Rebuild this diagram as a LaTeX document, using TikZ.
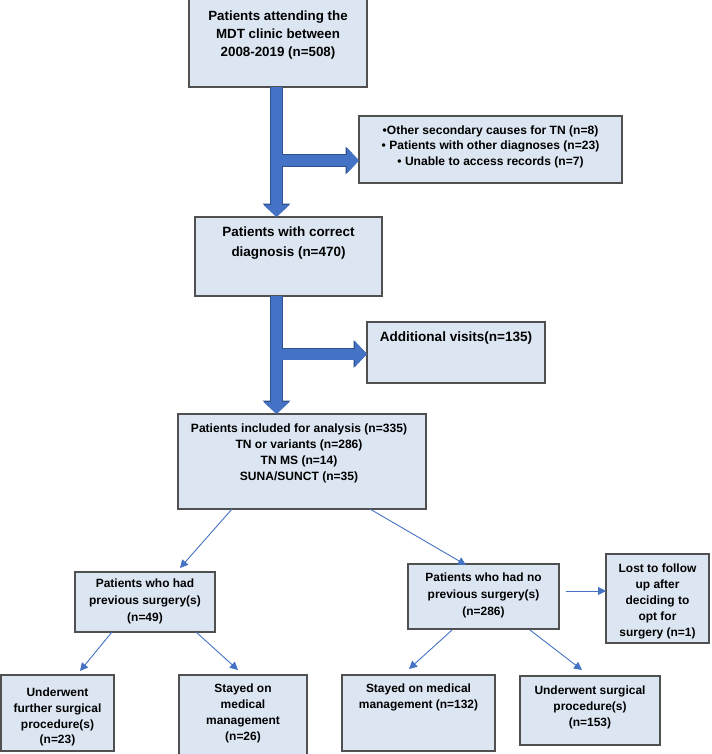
\documentclass[tikz,border=0pt]{standalone}
\usepackage{fontspec}
\setmainfont{Liberation Sans}
\usetikzlibrary{arrows.meta,calc}
\definecolor{boxfill}{HTML}{DCE6F2}
\definecolor{boxline}{HTML}{505050}
\definecolor{arrowblue}{HTML}{4472C4}
\definecolor{arrowedge}{HTML}{2F528F}
\newcommand\mybox[5]{\node[box,minimum width=#4bp,minimum height=#5bp] (#1) at (#2,#3) {};}
\newcommand\fsz[2]{\bfseries\fontsize{#1}{#2}\selectfont}
\begin{document}
\begin{tikzpicture}[x=1bp,y=-1bp,
  box/.style={draw=boxline, fill=boxfill, line width=1.1bp, inner sep=0, outer sep=0, anchor=north west},
  txt/.style={anchor=north, align=center, inner sep=0, text=black},
  bigedge/.style={line width=12.4bp, draw=arrowedge, -{Triangle[width=26.8bp,length=13.3bp]}},
  bigarrow/.style={line width=11bp, draw=arrowblue, -{Triangle[width=25bp,length=12bp]}},
  thinarrow/.style={line width=0.9bp, draw=arrowblue, -{Triangle[width=8bp,length=8bp]}}]
\useasboundingbox (0,0) rectangle (712,754);
% boxes
\mybox{b1}{189}{-1}{178}{88}
\mybox{b2}{359}{116}{263}{67}
\mybox{b3}{195}{217}{187}{79}
\mybox{b4}{367}{322}{178}{61}
\mybox{b5}{178}{414}{248}{95}
\mybox{p1}{75}{572}{140}{60}
\mybox{p2}{408}{564}{151}{65}
\mybox{lost}{606}{554}{103}{89}
\mybox{u1}{1}{675}{113}{76}
\mybox{s1}{179}{675}{128}{80}
\mybox{s2}{342}{675}{153}{76}
\mybox{u2}{520}{676}{140}{69}
% texts
\node[txt,font=\fsz{13.4}{18.5}] (t1) at ($(b1.north)+(0,11.2)$) {Patients attending the\\MDT clinic between\\2008-2019 (n=508)};
\node[txt,font=\fsz{12.1}{15.5}] (t2) at ($(b2.north)+(0,9.6)$) {•Other secondary causes for TN (n=8)\\• Patients with other diagnoses (n=23)\\• Unable to access records (n=7)};
\node[txt,font=\fsz{13.5}{19.5}] (t3) at ($(b3.north)+(0,10)$) {Patients with correct\\diagnosis (n=470)};
\node[txt,font=\fsz{13.6}{19}] (t4) at ($(b4.north)+(0,9)$) {Additional visits(n=135)};
\node[txt,font=\fsz{12.1}{16}] (t5) at ($(b5.north)+(-3,9.6)$) {Patients included for analysis (n=335)\\TN or variants (n=286)\\TN MS (n=14)\\SUNA/SUNCT (n=35)};
\node[txt,font=\fsz{12}{17}] (tp1) at ($(p1.north)+(0,6.6)$) {Patients who had\\previous surgery(s)\\(n=49)};
\node[txt,font=\fsz{12}{17}] (tp2) at ($(p2.north)+(0,8.6)$) {Patients who had no\\previous surgery(s)\\(n=286)};
\node[txt,font=\fsz{12}{16}] (tl) at ($(lost.north)+(0,9.6)$) {Lost to follow\\up after\\deciding to\\opt for\\surgery (n=1)};
\node[txt,font=\fsz{12}{16}] (tu1) at ($(u1.north)+(0,12.3)$) {Underwent\\further surgical\\procedure(s)\\(n=23)};
\node[txt,font=\fsz{12}{16}] (ts1) at ($(s1.north)+(0,8.6)$) {Stayed on\\medical\\management\\(n=26)};
\node[txt,font=\fsz{12}{16}] (ts2) at ($(s2.north)+(0,8.6)$) {Stayed on medical\\management (n=132)};
\node[txt,font=\fsz{12}{16}] (tu2) at ($(u2.north)+(0,9.6)$) {Underwent surgical\\procedure(s)\\(n=153)};
% thick arrows
\coordinate (sh1) at ($(b1.south)+(-1.5,0)$);
\coordinate (sh2) at (sh1 |- b3.south);
\coordinate (br1s) at ($(sh1 |- b2.west)+(0,11)$);
\coordinate (br1e) at ($(b2.west)+(0,11)$);
\coordinate (br2s) at ($(sh2 |- b4.west)+(0,1.5)$);
\coordinate (br2e) at ($(b4.west)+(0,1.5)$);
\foreach \st in {bigedge,bigarrow}{
  \draw[\st] (sh1) -- (sh1 |- b3.north);
  \draw[\st] (sh2) -- (sh2 |- b5.north);
}
\foreach \st in {bigedge,bigarrow}{
  \draw[\st] (br1s) -- (br1e);
  \draw[\st] (br2s) -- (br2e);
}
\fill[arrowblue] ($(sh1)+(-5.5,0.6)$) rectangle ($(sh1 |- b3.north)+(5.5,-14)$);
\fill[arrowblue] ($(sh2)+(-5.5,0.6)$) rectangle ($(sh2 |- b5.north)+(5.5,-14)$);
% thin arrows
\coordinate (a1s) at ($(b5.south west)+(54,0)$);
\coordinate (a1e) at ($(p1.north west)+(105,-4)$);
\coordinate (a2s) at ($(b5.south west)+(192,0)$);
\coordinate (a2e) at ($(p2.north west)+(58,1)$);
\coordinate (a3s) at ($(p1.south west)+(37,0)$);
\coordinate (a3e) at ($(u1.north west)+(79,-4)$);
\coordinate (a4s) at ($(p1.south west)+(121,0)$);
\coordinate (a4e) at ($(s1.north west)+(59,-5)$);
\coordinate (a5s) at ($(p2.south west)+(44,1)$);
\coordinate (a5e) at ($(s2.north west)+(67,-6)$);
\coordinate (a6s) at ($(p2.south west)+(122,1)$);
\coordinate (a6e) at ($(u2.north west)+(62,-6)$);
\coordinate (a7s) at ($(p2.east)+(7,-5.5)$);
\draw[thinarrow] (a1s) -- (a1e);
\draw[thinarrow] (a2s) -- (a2e);
\draw[thinarrow] (a3s) -- (a3e);
\draw[thinarrow] (a4s) -- (a4e);
\draw[thinarrow] (a5s) -- (a5e);
\draw[thinarrow] (a6s) -- (a6e);
\draw[thinarrow] (a7s) -- (a7s -| lost.west);
\end{tikzpicture}
\end{document}
